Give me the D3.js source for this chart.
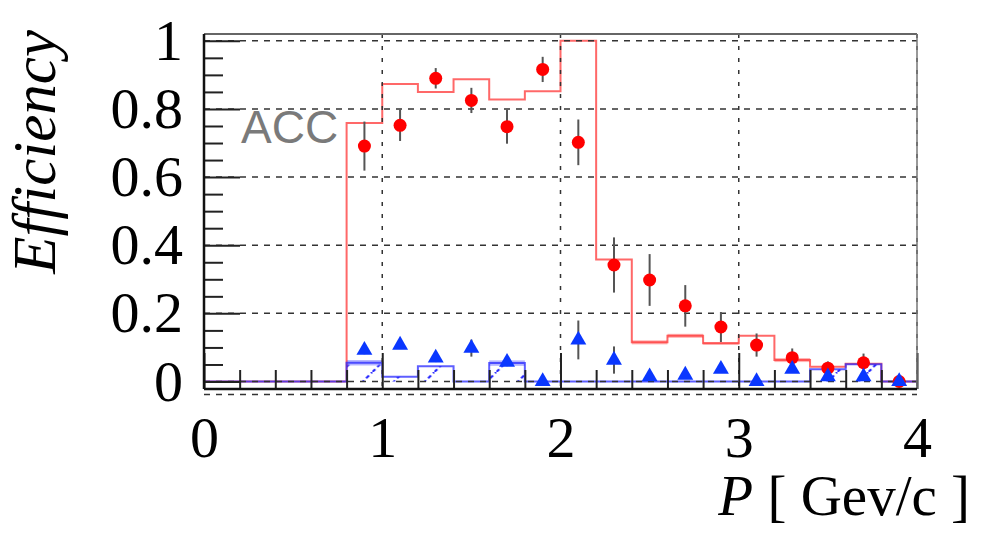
<!DOCTYPE html>
<html>
<head>
<title>ACC efficiency</title>
<script src="https://cdnjs.cloudflare.com/ajax/libs/d3/7.8.5/d3.min.js"></script>
<style>
    html, body {
        margin: 0;
        padding: 0;
        background: white;
    }
    svg {
        display: block;
    }
    .tick text {
        font-family: 'Liberation Serif', 'Times New Roman', serif;
        font-size: 58px;
        fill: black;
    }
</style>
</head>
<body>
<div id="chart"></div>
<script>
// histogram bins (P in GeV/c)
const binEdges = [0, 0.2, 0.4, 0.6, 0.8, 1.0, 1.2, 1.4, 1.6, 1.8, 2.0, 2.2, 2.4, 2.6, 2.8, 3.0, 3.2, 3.4, 3.6, 3.8, 4.0];
const redHist = [0, 0, 0, 0, 0.759, 0.873, 0.850, 0.887, 0.828, 0.852, 1.0, 0.358, 0.115, 0.134, 0.112, 0.134, 0.063, 0.043, 0.052, 0];
const redBand = [0, 0, 0, 0, 0, 0, 0, 0, 0, 0, 0, 0, 0.006, 0.006, 0.004, 0, 0.006, 0, 0, 0];
const blueHist = [0, 0, 0, 0, 0.055, 0.014, 0.045, 0, 0.054, 0, 0, 0, 0, 0, 0, 0, 0, 0.036, 0.051, 0];
const blueBand = [0, 0, 0, 0, 0.008, 0, 0, 0, 0.008, 0, 0, 0, 0, 0, 0, 0, 0, 0, 0, 0];

// measured points at bin centres
const pointP = [0.9, 1.1, 1.3, 1.5, 1.7, 1.9, 2.1, 2.3, 2.5, 2.7, 2.9, 3.1, 3.3, 3.5, 3.7, 3.9];
const redEff = [0.691, 0.752, 0.890, 0.825, 0.748, 0.916, 0.702, 0.342, 0.298, 0.222, 0.160, 0.107, 0.070, 0.039, 0.055, 0.0];
const redErr = [0.072, 0.046, 0.030, 0.037, 0.050, 0.037, 0.067, 0.081, 0.076, 0.061, 0.044, 0.034, 0.027, 0.020, 0.027, 0.010];
const blueEff = [0.092, 0.107, 0.069, 0.098, 0.057, 0.0, 0.122, 0.063, 0.014, 0.019, 0.036, 0.0, 0.036, 0.014, 0.014, 0.0];
const blueErr = [0.012, 0.010, 0.012, 0.025, 0.012, 0.005, 0.057, 0.040, 0.008, 0.008, 0.010, 0.005, 0.010, 0.008, 0.010, 0.005];

// axes
const xMajor = [0, 1, 2, 3, 4];
const xMinor = [0.2, 0.4, 0.6, 0.8, 1.2, 1.4, 1.6, 1.8, 2.2, 2.4, 2.6, 2.8, 3.2, 3.4, 3.6, 3.8];
const yMajor = [0, 0.2, 0.4, 0.6, 0.8, 1];
const yMinor = [0.05, 0.1, 0.15, 0.25, 0.3, 0.35, 0.45, 0.5, 0.55, 0.65, 0.7, 0.75, 0.85, 0.9, 0.95];
const yTickLabels = ["0", "0.2", "0.4", "0.6", "0.8", "1"];
const xGridValues = [1, 2, 3, 4];
const yGridValues = [0, 0.2, 0.4, 0.6, 0.8, 1];

const width = 981, height = 539;
const plotLeft = 204, plotRight = 917, plotTop = 34, plotBottom = 389;

const svg = d3.select("#chart")
    .append("svg")
    .attr("width", width)
    .attr("height", height);

const x = d3.scaleLinear().domain([0, 4]).range([plotLeft, plotRight]);
const y = d3.scaleLinear().domain([-0.022, 1.02]).range([plotBottom, plotTop]);

const serif = "'Liberation Serif', 'Times New Roman', serif";

// hatch pattern for the blue histogram
const hatchPeriod = 31;
const hatch = svg.append("defs").append("pattern")
    .attr("id", "hatch")
    .attr("patternUnits", "userSpaceOnUse")
    .attr("width", hatchPeriod)
    .attr("height", hatchPeriod)
    .attr("x", (x(0.9) - 1.5 + y(0)) % hatchPeriod)
    .attr("y", 0);
hatch.append("line")
    .attr("x1", 0).attr("y1", hatchPeriod)
    .attr("x2", hatchPeriod).attr("y2", 0)
    .attr("stroke", "#1e1eff")
    .attr("stroke-width", 2)
    .attr("stroke-dasharray", "4,3");

const bins = blueHist.map((v, i) => ({ x0: binEdges[i], x1: binEdges[i + 1], v: v, band: blueBand[i] }));
const redBins = redHist.map((v, i) => ({ x0: binEdges[i], x1: binEdges[i + 1], v: v, band: redBand[i] }));

svg.selectAll(".hatch")
    .data(bins.filter(d => d.v > 0))
    .enter()
    .append("rect")
    .attr("x", d => x(d.x0))
    .attr("y", d => y(d.v))
    .attr("width", d => x(d.x1) - x(d.x0))
    .attr("height", d => y(0) - y(d.v))
    .attr("fill", "url(#hatch)");

// pale bands along some bins
svg.selectAll(".redband")
    .data(redBins.filter(d => d.band > 0))
    .enter()
    .append("rect")
    .attr("x", d => x(d.x0))
    .attr("y", d => y(d.v + d.band))
    .attr("width", d => x(d.x1) - x(d.x0))
    .attr("height", d => y(d.v - d.band) - y(d.v + d.band))
    .attr("fill", "rgba(255,150,150,0.7)");

svg.selectAll(".blueband")
    .data(bins.filter(d => d.band > 0))
    .enter()
    .append("rect")
    .attr("x", d => x(d.x0))
    .attr("y", d => y(d.v + d.band))
    .attr("width", d => x(d.x1) - x(d.x0))
    .attr("height", d => y(d.v - d.band) - y(d.v + d.band))
    .attr("fill", "rgba(150,150,255,0.7)");

function stepPoints(vals) {
    const pts = vals.map((v, i) => [binEdges[i], v]);
    pts.push([binEdges[binEdges.length - 1], vals[vals.length - 1]]);
    return pts;
}

const stepLine = d3.line()
    .x(d => x(d[0]))
    .y(d => y(d[1]))
    .curve(d3.curveStepAfter);

svg.append("path")
    .attr("d", stepLine(stepPoints(redHist)))
    .attr("fill", "none")
    .attr("stroke", "rgba(255,40,40,0.7)")
    .attr("stroke-width", 2);

svg.append("path")
    .attr("d", stepLine(stepPoints(blueHist)))
    .attr("fill", "none")
    .attr("stroke", "rgba(40,40,255,0.75)")
    .attr("stroke-width", 2);

// grid
svg.selectAll(".hgrid")
    .data(yGridValues)
    .enter()
    .append("line")
    .attr("x1", plotLeft)
    .attr("x2", plotRight)
    .attr("y1", d => y(d))
    .attr("y2", d => y(d))
    .attr("stroke", "#333")
    .attr("stroke-width", 1.5)
    .attr("stroke-dasharray", "6,6");

svg.selectAll(".vgrid")
    .data(xGridValues)
    .enter()
    .append("line")
    .attr("x1", d => x(d))
    .attr("x2", d => x(d))
    .attr("y1", plotTop)
    .attr("y2", plotBottom)
    .attr("stroke", "#333")
    .attr("stroke-width", 1.5)
    .attr("stroke-dasharray", "4,8");

// stray dashed line just under the frame
svg.append("line")
    .attr("x1", plotLeft)
    .attr("x2", plotRight)
    .attr("y1", y(-0.038))
    .attr("y2", y(-0.038))
    .attr("stroke", "#333")
    .attr("stroke-width", 1.5)
    .attr("stroke-dasharray", "6,6");

// error bars
svg.selectAll(".rederr")
    .data(pointP)
    .enter()
    .append("line")
    .attr("x1", d => x(d))
    .attr("x2", d => x(d))
    .attr("y1", (d, i) => y(redEff[i] - redErr[i]))
    .attr("y2", (d, i) => y(redEff[i] + redErr[i]))
    .attr("stroke", "#555")
    .attr("stroke-width", 2);

svg.selectAll(".blueerr")
    .data(pointP)
    .enter()
    .append("line")
    .attr("x1", d => x(d))
    .attr("x2", d => x(d))
    .attr("y1", (d, i) => y(blueEff[i] - blueErr[i]))
    .attr("y2", (d, i) => y(blueEff[i] + blueErr[i]))
    .attr("stroke", "#555")
    .attr("stroke-width", 2);

// markers
svg.selectAll(".redpt")
    .data(pointP)
    .enter()
    .append("circle")
    .attr("cx", d => x(d))
    .attr("cy", (d, i) => y(redEff[i]))
    .attr("r", 6.5)
    .attr("fill", "#ff0000");

svg.selectAll(".bluept")
    .data(pointP)
    .enter()
    .append("path")
    .attr("d", d3.symbol().type(d3.symbolTriangle).size(110))
    .attr("transform", (d, i) => "translate(" + x(d) + "," + y(blueEff[i]) + ")")
    .attr("fill", "#0a37ff");

// axis ticks
const yAxis = svg.append("g")
    .attr("transform", "translate(" + plotLeft + ",0)")
    .call(d3.axisLeft(y).tickValues(yMajor).tickSize(-36).tickPadding(21)
        .tickFormat((d, i) => yTickLabels[i]));
const yAxisMinor = svg.append("g")
    .attr("transform", "translate(" + plotLeft + ",0)")
    .call(d3.axisLeft(y).tickValues(yMinor).tickSize(-19).tickFormat(""));

const xAxis = svg.append("g")
    .attr("transform", "translate(0," + plotBottom + ")")
    .call(d3.axisBottom(x).tickValues(xMajor).tickSize(-36).tickPadding(27).tickFormat(d3.format("d")));
const xAxisMinor = svg.append("g")
    .attr("transform", "translate(0," + plotBottom + ")")
    .call(d3.axisBottom(x).tickValues(xMinor).tickSize(-19).tickFormat(""));

[yAxis, yAxisMinor, xAxis, xAxisMinor].forEach(g => {
    g.select(".domain").remove();
    g.selectAll(".tick line").attr("stroke", "#222").attr("stroke-width", 2);
});

// frame
svg.append("line")
    .attr("x1", plotLeft).attr("x2", plotRight)
    .attr("y1", plotTop).attr("y2", plotTop)
    .attr("stroke", "#666").attr("stroke-width", 2);
svg.append("line")
    .attr("x1", plotRight).attr("x2", plotRight)
    .attr("y1", plotTop).attr("y2", plotBottom)
    .attr("stroke", "#777").attr("stroke-width", 1.5);
svg.append("line")
    .attr("x1", plotLeft).attr("x2", plotLeft)
    .attr("y1", plotTop).attr("y2", plotBottom)
    .attr("stroke", "#111").attr("stroke-width", 2.5);
svg.append("line")
    .attr("x1", plotLeft).attr("x2", plotRight)
    .attr("y1", plotBottom).attr("y2", plotBottom)
    .attr("stroke", "#111").attr("stroke-width", 2.5);

// labels
svg.append("text")
    .attr("x", 241)
    .attr("y", 143)
    .attr("font-family", "'Liberation Sans', Arial, sans-serif")
    .attr("font-size", 46)
    .attr("fill", "#7a7a7a")
    .text("ACC");

svg.append("text")
    .attr("transform", "translate(55,30) rotate(-90)")
    .attr("text-anchor", "end")
    .attr("font-family", serif)
    .attr("font-style", "italic")
    .attr("font-size", 61)
    .text("Efficiency");

const xTitle = svg.append("text")
    .attr("x", 970)
    .attr("y", 515)
    .attr("text-anchor", "end")
    .attr("font-family", serif)
    .attr("font-size", 57);
xTitle.append("tspan").attr("font-style", "italic").text("P");
xTitle.append("tspan").text(" [ Gev/c ]");
</script>
</body>
</html>
